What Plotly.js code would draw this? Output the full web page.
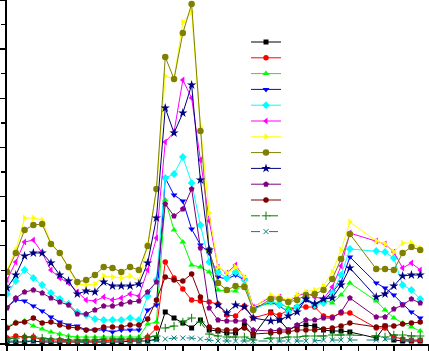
<!DOCTYPE html>
<html>
<head>
<meta charset="utf-8">
<script src="https://cdn.plot.ly/plotly-3.0.1.min.js"></script>
<style>html,body{margin:0;padding:0;background:#fff;}#chart{width:429px;height:351px;}</style>
</head>
<body>
<div id="chart"></div>
<script>
// sample positions (indices 29, 40, 41 absent)
const xIdx = [0,1,2,3,4,5,6,7,8,9,10,11,12,13,14,15,16,17,18,19,20,21,22,23,24,25,26,27,28,
              30,31,32,33,34,35,36,37,38,39,
              42,43,44,45,46,47];

const s1 = [2,2,2,3,2,2,2,2,2,2, 2,2,2,2,3,3,3,5,32,26, 21,16,24,14,13,11,11,19,8,
            32,24,14,18,19,18,14,13,13,12, 6,18,4,3,3,3];
const s2 = [6,8,7,7,4,4,4,3,3,3, 3,3,4,4,4,4,7,16,82,66, 55,44,43,42,40,29,28,38,26,
            31,29,34,37,37,37,28,27,31,31, 16,16,7,5,4,4];
const s3 = [17,22,23,18,15,12,10,8,7,7, 7,7,7,7,7,7,20,22,144,114, 102,79,77,72,54,53,53,60,36,
            41,41,36,37,44,41,44,41,49,61, 43,34,26,21,17,13];
const s4 = [37,44,43,38,33,27,22,19,18,14, 14,14,12,14,14,14,34,39,166,149, 143,115,99,91,67,65,69,64,36,
            42,38,32,37,44,39,44,52,62,87, 61,56,49,40,32,26];
const s5 = [50,63,74,66,59,51,45,40,32,29, 25,24,24,24,26,24,48,64,166,170, 187,161,119,82,72,66,72,64,34,
            43,39,32,37,47,39,41,51,69,95, 93,92,86,59,54,45];
const s6 = [64,82,102,104,91,74,66,61,52,44, 43,47,44,46,50,48,74,106,202,212, 264,246,184,123,77,71,79,66,37,
            47,47,42,48,51,47,45,57,78,111, 103,100,92,76,81,74];
const s7 = [74,94,126,126,124,101,91,76,60,59, 60,68,67,66,68,63,99,154,268,265, 322,332,217,131,77,71,77,67,36,
            49,47,44,49,52,54,58,72,94,122, 103,100,92,101,101,96];
const s8 = [72,91,114,119,120,100,91,77,62,64, 69,77,76,72,77,74,98,155,287,265, 311,340,213,94,61,54,58,57,34,
            45,45,42,44,49,50,54,65,85,110, 75,75,74,91,97,94];
const s9 = [56,69,88,91,91,81,69,63,50,53, 52,62,58,58,58,60,81,126,236,211, 231,259,164,94,39,31,39,37,26,
            23,24,28,32,45,40,45,46,59,76, 47,50,58,68,69,69];
const s10 = [36,46,52,54,51,46,42,39,30,30, 34,38,38,40,42,43,52,62,140,128, 135,155,96,36,24,23,23,23,14,
             13,14,14,19,24,24,26,26,32,46, 27,27,35,39,45,41];
const s11 = [16,21,22,26,21,22,19,17,16,14, 14,17,17,17,19,19,25,44,67,64, 63,70,47,17,14,14,14,16,10,
             11,12,12,14,14,14,15,16,18,21, 17,18,18,20,21,22];
const s12 = [5,6,7,7,6,5,5,4,4,4, 4,5,5,5,5,5,7,8,16,18, 22,26,22,10,8,7,7,7,4,
             6,6,7,7,8,8,8,9,9,9, 8,7,9,9,8,8];
const s13 = [3,3,3,3,3,3,3,2,2,2, 2,2,3,3,3,3,3,4,5,6, 6,6,5,4,3,3,3,3,3,
             3,3,3,3,3,3,4,4,4,4, 4,5,5,4,4,4];

const seriesNames = [" "," "," "," "," "," "," "," "," "," "," "," "," "];
const series = [s1,s2,s3,s4,s5,s6,s7,s8,s9,s10,s11,s12,s13];
const colors = ["#000000","#FF0000","#00FF00","#0000FF","#00FFFF","#FF00FF","#FFFF00",
                "#808000","#000080","#800080","#800000","#008000","#008080"];
const symbols = ["square","circle","triangle-up","triangle-down","diamond","triangle-left","triangle-right",
                 "circle","star","pentagon","circle","cross-thin","x-thin"];
const sizes = [5,5.5,6,6,6,6,6,6.5,7,6,5.5,6,5];
const dashes = ["solid","solid","solid","solid","solid","solid","solid","solid","solid","solid","solid","dash","dash"];

const traces = series.map((ys, k) => {
  const thin = symbols[k].endsWith("-thin");
  return {
    type: "scatter", mode: "lines+markers",
    x: xIdx, y: ys, name: seriesNames[k],
    legend: k === 0 ? "legend" : "legend" + (k + 1),
    line: {color: colors[k], width: 1, dash: dashes[k]},
    marker: {symbol: symbols[k], size: sizes[k], color: colors[k],
             line: {color: colors[k], width: thin ? 1 : 0}}
  };
});

const layout = {
  width: 429, height: 351,
  margin: {l: 7, r: 0, t: 0, b: 7},
  paper_bgcolor: "#ffffff", plot_bgcolor: "#ffffff",
  showlegend: true,
  xaxis: {range: [0, 48], showgrid: false, zeroline: false, showline: true, linecolor: "#000", linewidth: 2,
          ticks: "outside", tick0: 0, dtick: 4, ticklen: 7, tickwidth: 1.5, tickcolor: "#000",
          showticklabels: false,
          minor: {ticks: "outside", dtick: 2, ticklen: 4, tickwidth: 1.5, tickcolor: "#000", showgrid: false}},
  yaxis: {range: [0, 344], showgrid: false, zeroline: false, showline: true, linecolor: "#000", linewidth: 2,
          ticks: "outside", tick0: 0, dtick: 344 / 7, ticklen: 7, tickwidth: 1.5, tickcolor: "#000",
          showticklabels: false,
          minor: {ticks: "outside", dtick: 344 / 14, ticklen: 4, tickwidth: 1.5, tickcolor: "#000", showgrid: false}}
};

// one legend per entry so entries can be spaced like the reference
for (let k = 0; k < series.length; k++) {
  const key = k === 0 ? "legend" : "legend" + (k + 1);
  const py = 42 + 15.8 * k;
  layout[key] = {x: (246 - 7) / 422, xanchor: "left", y: 1 - py / 344, yanchor: "middle",
                 bgcolor: "rgba(0,0,0,0)", borderwidth: 0, font: {size: 10, color: "#000"}};
}

Plotly.newPlot("chart", traces, layout, {staticPlot: true, displayModeBar: false});
</script>
</body>
</html>
